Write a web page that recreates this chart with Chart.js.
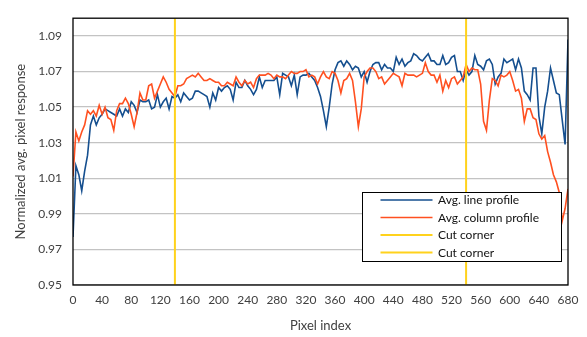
<!DOCTYPE html>
<html><head><meta charset="utf-8">
<script src="https://cdn.jsdelivr.net/npm/chart.js@4"></script>
<style>html,body{margin:0;padding:0;background:#fff}#wrap{width:587px;height:337px;position:relative}</style>
</head><body><div id="wrap"><canvas id="c" width="587" height="337"></canvas></div>
<script>
const pixelIndex = [
0,4,8,12,16,20,24,28,32,36,
40,44,48,52,56,60,64,68,72,76,
80,84,88,92,96,100,104,108,112,116,
120,124,128,132,136,140,144,148,152,156,
160,164,168,172,176,180,184,188,192,196,
200,204,208,212,216,220,224,228,232,236,
240,244,248,252,256,260,264,268,272,276,
280,284,288,292,296,300,304,308,312,316,
320,324,328,332,336,340,344,348,352,356,
360,364,368,372,376,380,384,388,392,396,
400,404,408,412,416,420,424,428,432,436,
440,444,448,452,456,460,464,468,472,476,
480,484,488,492,496,500,504,508,512,516,
520,524,528,532,536,540,544,548,552,556,
560,564,568,572,576,580,584,588,592,596,
600,604,608,612,616,620,624,628,632,636,
640,644,648,652,656,660,664,668,672,676,
680];
const avgLineProfile = [
0.977,1.017,1.012,1.003,1.014,1.023,1.040,1.045,1.040,1.044,
1.046,1.049,1.048,1.047,1.046,1.045,1.049,1.045,1.049,1.047,
1.053,1.051,1.047,1.054,1.053,1.053,1.054,1.049,1.050,1.057,
1.050,1.053,1.055,1.049,1.056,1.055,1.057,1.053,1.058,1.056,
1.054,1.055,1.059,1.059,1.058,1.057,1.056,1.050,1.058,1.054,
1.061,1.059,1.061,1.062,1.060,1.054,1.064,1.061,1.061,1.065,
1.062,1.060,1.057,1.060,1.067,1.061,1.065,1.065,1.065,1.065,
1.067,1.057,1.069,1.068,1.067,1.062,1.068,1.057,1.067,1.068,
1.068,1.069,1.067,1.065,1.061,1.056,1.048,1.039,1.050,1.063,
1.071,1.075,1.076,1.073,1.076,1.074,1.071,1.073,1.072,1.067,
1.070,1.064,1.070,1.074,1.075,1.075,1.071,1.074,1.072,1.072,
1.070,1.078,1.074,1.077,1.073,1.075,1.076,1.080,1.079,1.077,
1.076,1.078,1.080,1.076,1.076,1.074,1.074,1.079,1.074,1.075,
1.078,1.079,1.070,1.070,1.065,1.071,1.068,1.070,1.079,1.074,
1.073,1.071,1.076,1.077,1.074,1.063,1.067,1.069,1.077,1.075,
1.076,1.077,1.071,1.077,1.072,1.059,1.057,1.054,1.072,1.072,
1.045,1.035,1.050,1.059,1.072,1.065,1.058,1.057,1.043,1.029,
1.088];
const avgColumnProfile = [
1.011,1.036,1.031,1.036,1.040,1.048,1.046,1.048,1.045,1.051,
1.046,1.050,1.044,1.043,1.037,1.048,1.052,1.052,1.055,1.052,
1.046,1.039,1.047,1.058,1.054,1.054,1.062,1.063,1.055,1.059,
1.063,1.067,1.064,1.060,1.058,1.056,1.062,1.062,1.063,1.066,
1.067,1.068,1.067,1.069,1.067,1.065,1.065,1.066,1.065,1.064,
1.064,1.062,1.062,1.064,1.063,1.062,1.067,1.064,1.062,1.065,
1.063,1.064,1.061,1.066,1.068,1.068,1.068,1.069,1.068,1.066,
1.068,1.067,1.067,1.066,1.068,1.070,1.069,1.069,1.070,1.070,
1.071,1.067,1.068,1.067,1.063,1.067,1.070,1.067,1.066,1.070,
1.069,1.065,1.058,1.065,1.066,1.069,1.065,1.053,1.039,1.049,
1.067,1.070,1.072,1.072,1.070,1.066,1.067,1.063,1.065,1.067,
1.069,1.068,1.067,1.062,1.069,1.068,1.068,1.068,1.067,1.068,
1.069,1.075,1.070,1.068,1.068,1.064,1.068,1.059,1.065,1.061,
1.066,1.067,1.063,1.065,1.067,1.074,1.070,1.072,1.071,1.071,
1.063,1.042,1.037,1.054,1.066,1.065,1.062,1.068,1.067,1.068,
1.070,1.065,1.059,1.060,1.055,1.042,1.049,1.049,1.044,1.043,
1.035,1.032,1.034,1.025,1.019,1.012,1.008,1.002,0.986,0.993,
1.004];
const cutCornerX = [140, 540];
const yTicks = [0.95, 0.97, 0.99, 1.01, 1.03, 1.05, 1.07, 1.09];
const seriesNames = ['Avg. line profile', 'Avg. column profile', 'Cut corner', 'Cut corner'];
const Y_MIN = 0.95, Y_MAX = 1.10, X_MIN = 0, X_MAX = 680;

const COLORS = ['#154f8f', '#ff5020', '#ffd21c', '#ffd21c'];
const FONT = 'Lato, "Liberation Sans", sans-serif';
const TEXT_COLOR = '#404040';

const toXY = (ys) => pixelIndex.map((x, i) => ({x: x, y: ys[i]}));
const vline = (x) => [{x: x, y: Y_MIN}, {x: x, y: Y_MAX}];

const framePlugin = {
  id: 'frame',
  afterDatasetsDraw(chart) {
    const {ctx, chartArea: a} = chart;
    ctx.save();
    ctx.strokeStyle = '#000';
    ctx.lineWidth = 1.3;
    ctx.strokeRect(a.left, a.top, a.right - a.left, a.bottom - a.top);
    ctx.restore();
  },
  afterDraw(chart) {
    const ctx = chart.ctx;
    const bx = 362.5, by = 192.5, bw = 199, bh = 69;
    ctx.save();
    ctx.fillStyle = '#fff';
    ctx.fillRect(bx, by, bw, bh);
    ctx.strokeStyle = '#000';
    ctx.lineWidth = 1;
    ctx.strokeRect(bx, by, bw, bh);
    const rows = [200, 217.5, 235, 252.5];
    ctx.font = '12px ' + FONT;
    ctx.textBaseline = 'middle';
    ctx.textAlign = 'left';
    seriesNames.forEach((name, i) => {
      ctx.strokeStyle = COLORS[i];
      ctx.lineWidth = i < 2 ? 1.6 : 2;
      ctx.beginPath();
      ctx.moveTo(380.5, rows[i]);
      ctx.lineTo(432.5, rows[i]);
      ctx.stroke();
      ctx.fillStyle = '#111';
      ctx.fillText(name, 438, rows[i] + 0.5);
    });
    ctx.restore();
  }
};

new Chart(document.getElementById('c'), {
  type: 'line',
  data: {
    datasets: [
      {label: seriesNames[0], data: toXY(avgLineProfile), borderColor: COLORS[0], borderWidth: 1.6, pointRadius: 0, tension: 0, order: 3},
      {label: seriesNames[1], data: toXY(avgColumnProfile), borderColor: COLORS[1], borderWidth: 1.6, pointRadius: 0, tension: 0, order: 2},
      {label: seriesNames[2], data: vline(cutCornerX[0]), borderColor: COLORS[2], borderWidth: 2, pointRadius: 0, order: 1},
      {label: seriesNames[3], data: vline(cutCornerX[1]), borderColor: COLORS[3], borderWidth: 2, pointRadius: 0, order: 0}
    ]
  },
  options: {
    responsive: false,
    animation: false,
    devicePixelRatio: 1,
    layout: {padding: {left: 0, right: 19, top: 5, bottom: 0}},
    plugins: {legend: {display: false}, tooltip: {enabled: false}},
    scales: {
      x: {
        type: 'linear', min: X_MIN, max: X_MAX,
        ticks: {stepSize: 40, color: TEXT_COLOR, font: {family: FONT, size: 12}, padding: 8, maxRotation: 0, autoSkip: false},
        grid: {display: false, drawTicks: false},
        border: {display: false},
        title: {display: true, text: 'Pixel index', color: TEXT_COLOR, font: {family: FONT, size: 13}, padding: {top: 0, bottom: 3}},
        afterFit(s) { s.height = 52; }
      },
      y: {
        type: 'linear', min: Y_MIN, max: Y_MAX,
        afterBuildTicks(s) { s.ticks = yTicks.map(v => ({value: v})); },
        ticks: {color: TEXT_COLOR, font: {family: FONT, size: 12}, padding: 11, callback: v => Number(v).toFixed(2)},
        grid: {color: '#c3c3c3', lineWidth: 1.3, drawTicks: false},
        border: {display: false},
        title: {display: true, text: 'Normalized avg. pixel response', color: TEXT_COLOR, font: {family: FONT, size: 13}, padding: {top: 13, bottom: 0}},
        afterFit(s) { s.width = 73; }
      }
    }
  },
  plugins: [framePlugin]
});
</script></body></html>
